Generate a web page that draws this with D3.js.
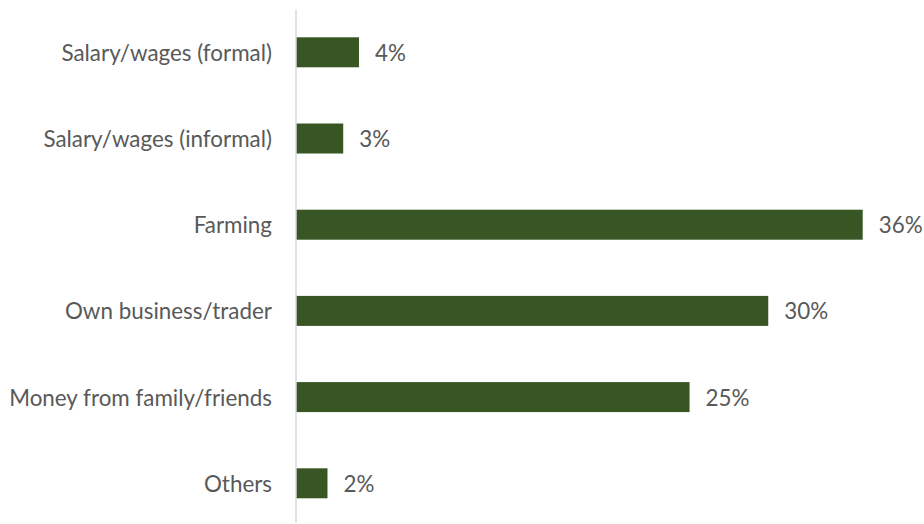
<!DOCTYPE html>
<html>
<head>
<meta charset="utf-8">
<script src="https://cdn.jsdelivr.net/npm/d3@7/dist/d3.min.js"></script>
<style>
  html, body { margin: 0; padding: 0; background: #ffffff; }
  svg { display: block; }
</style>
</head>
<body>
<svg id="chart" width="924" height="524"></svg>
<script>
// Main sources of income (share of respondents, %)
const categories = [
  "Salary/wages (formal)",
  "Salary/wages (informal)",
  "Farming",
  "Own business/trader",
  "Money from family/friends",
  "Others"
];
const values = [4, 3, 36, 30, 25, 2];
const valueLabels = ["4%", "3%", "36%", "30%", "25%", "2%"];

const data = categories.map((c, i) => ({ category: c, value: values[i], label: valueLabels[i] }));

const svg = d3.select("#chart");
const font = "Lato, 'Open Sans', sans-serif";
const fontSize = 22.4;
const textColor = "#595959";
const barColor = "#375623";

const plot = { left: 296, top: 9.2, bottom: 526.4 };

const x = d3.scaleLinear()
  .domain([0, 36])
  .range([plot.left, 862.7]);

const y = d3.scaleBand()
  .domain(categories)
  .range([plot.top, plot.bottom])
  .paddingInner(0.652)
  .paddingOuter(0.326);

// Bars
svg.append("g")
  .selectAll("rect")
  .data(data)
  .join("rect")
  .attr("x", x(0))
  .attr("y", d => y(d.category))
  .attr("width", d => x(d.value) - x(0))
  .attr("height", y.bandwidth())
  .attr("fill", barColor);

// Category axis (vertical line with labels, no ticks)
const yAxis = svg.append("g")
  .attr("transform", `translate(${x(0)},0)`)
  .call(d3.axisLeft(y).tickSize(0).tickPadding(24));
yAxis.select(".domain")
  .attr("stroke", "#d9d9d9")
  .attr("stroke-width", 1.5)
  .attr("d", `M0,${plot.top}V${plot.bottom - 4}`);
yAxis.selectAll("text")
  .attr("fill", textColor)
  .attr("font-family", font)
  .attr("font-size", fontSize)
  .attr("dy", "0.38em");

// Value labels
svg.append("g")
  .selectAll("text")
  .data(data)
  .join("text")
  .attr("x", d => x(d.value) + 16)
  .attr("y", d => y(d.category) + y.bandwidth() / 2)
  .attr("dy", "0.38em")
  .attr("fill", textColor)
  .attr("font-family", font)
  .attr("font-size", fontSize)
  .text(d => d.label);
</script>
</body>
</html>
